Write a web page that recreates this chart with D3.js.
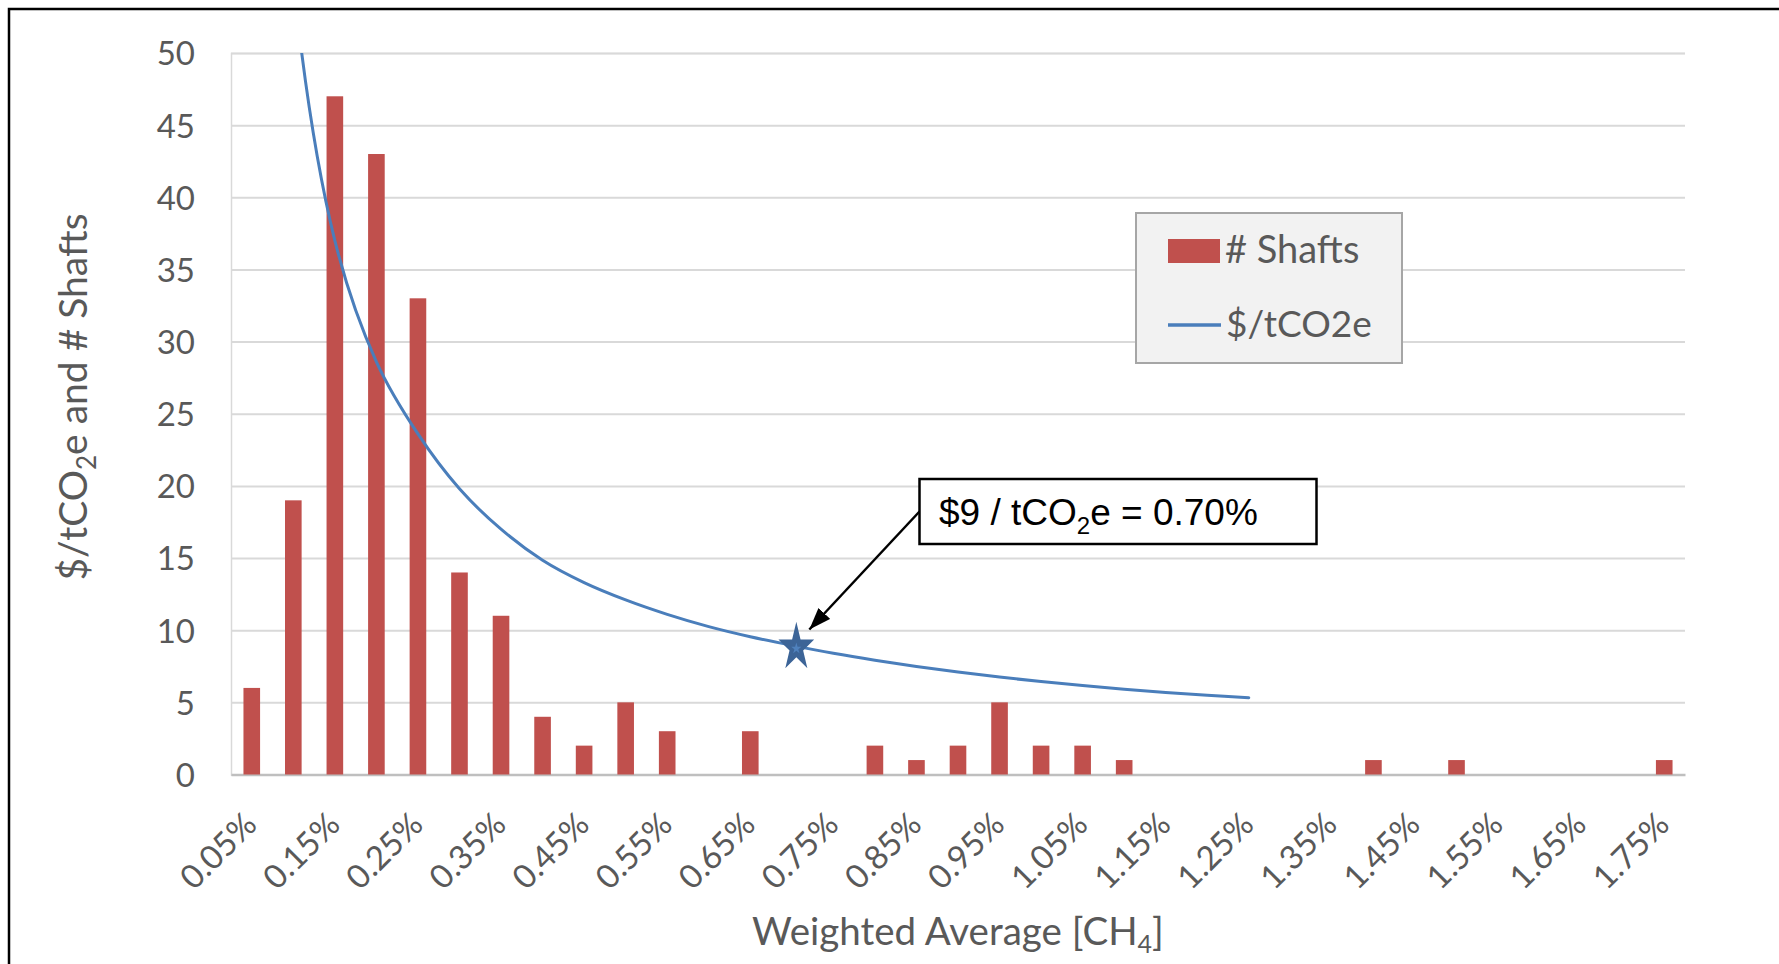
<!DOCTYPE html>
<html>
<head>
<meta charset="utf-8">
<script src="https://cdn.jsdelivr.net/npm/d3@7"></script>
<style>
  body { margin: 0; background: #fff; }
  svg { display: block; }
  text { font-family: Lato, "Open Sans", sans-serif; }
</style>
</head>
<body>
<svg id="chart" width="1779" height="964"></svg>
<script>
// methane concentration bins on the category axis
var categories = ["0.05%", "0.10%", "0.15%", "0.20%", "0.25%", "0.30%", "0.35%", "0.40%", "0.45%",
  "0.50%", "0.55%", "0.60%", "0.65%", "0.70%", "0.75%", "0.80%", "0.85%", "0.90%", "0.95%",
  "1.00%", "1.05%", "1.10%", "1.15%", "1.20%", "1.25%", "1.30%", "1.35%", "1.40%", "1.45%",
  "1.50%", "1.55%", "1.60%", "1.65%", "1.70%", "1.75%"];

// number of shafts per bin
var shafts = [6, 19, 47, 43, 33, 14, 11, 4, 2, 5, 3, 0, 3, 0, 0, 2, 1, 2, 5, 2, 2, 1,
  0, 0, 0, 0, 0, 1, 0, 1, 0, 0, 0, 0, 1];

// $/tCO2e for the first 25 bins (first two run off the top)
var costPerTonne = [110, 55, 37.0, 28.6, 23.6, 19.8, 17.0, 14.85, 13.3, 12.1, 11.1, 10.25,
  9.55, 8.95, 8.4, 7.92, 7.49, 7.1, 6.75, 6.44, 6.16, 5.91, 5.69, 5.5, 5.32];

var yTicks = [0, 5, 10, 15, 20, 25, 30, 35, 40, 45, 50];
var xTickLabels = categories.filter(function(d, i) { return i % 2 == 0; });

// highlighted point
var marker = { category: "0.70%", value: 8.8 };

var barColor = '#c0504d';
var lineColor = '#4a7ebb';
var textColor = '#595959';

var svg = d3.select('#chart');
var plot = { left: 231, right: 1685, top: 53, bottom: 774.5 };

var x = d3.scaleBand()
  .domain(categories)
  .range([plot.left, plot.right])
  .paddingInner(0.6)
  .paddingOuter(0.3);

var y = d3.scaleLinear()
  .domain([0, 50])
  .range([plot.bottom, plot.top]);

function bandCenter(c) { return x(c) + x.bandwidth() / 2; }

// outer frame, runs off the right and bottom of the picture
svg.append('rect')
  .attr('x', 9).attr('y', 9)
  .attr('width', 1800).attr('height', 1000)
  .style('fill', 'none')
  .style('stroke', '#000')
  .style('stroke-width', 2.5);

///////////////////////////////////////////////////////////////////////////////
// AXES

var yAxis = svg.append('g')
  .attr('transform', 'translate(' + plot.left + ',0)')
  .call(d3.axisLeft(y)
    .tickValues(yTicks)
    .tickSize(-(plot.right - plot.left))
    .tickPadding(36));

yAxis.select('.domain')
  .style('stroke', '#d9d9d9')
  .style('stroke-width', 1.5);
yAxis.selectAll('.tick line')
  .style('stroke', '#d9d9d9')
  .style('stroke-width', 2);
yAxis.selectAll('.tick text')
  .attr('dy', '0.36em')
  .style('font-family', 'Lato, sans-serif')
  .style('font-size', '33px')
  .style('fill', textColor);

var xAxis = svg.append('g')
  .attr('transform', 'translate(0,' + plot.bottom + ')')
  .call(d3.axisBottom(x)
    .tickValues(xTickLabels)
    .tickSize(0)
    .tickSizeOuter(0));

xAxis.select('.domain')
  .style('stroke', '#bfbfbf')
  .style('stroke-width', 2.5);
xAxis.selectAll('.tick text')
  .attr('x', 0).attr('y', 0).attr('dy', 0)
  .attr('transform', 'translate(7,52) rotate(-45)')
  .style('text-anchor', 'end')
  .style('font-family', 'Lato, sans-serif')
  .style('font-size', '33px')
  .style('fill', textColor);

///////////////////////////////////////////////////////////////////////////////
// BARS AND LINE

svg.append('g').selectAll('rect')
  .data(shafts)
  .enter()
  .append('rect')
  .attr('x', function(d, i) { return x(categories[i]); })
  .attr('width', x.bandwidth())
  .attr('y', function(d) { return y(d); })
  .attr('height', function(d) { return y(0) - y(d); })
  .style('fill', barColor);

svg.append('clipPath')
  .attr('id', 'plotClip')
  .append('rect')
  .attr('x', plot.left).attr('y', plot.top)
  .attr('width', plot.right - plot.left)
  .attr('height', plot.bottom - plot.top);

// smoothed like the spreadsheet line
var costLine = d3.line()
  .x(function(d, i) { return bandCenter(categories[i]); })
  .y(function(d) { return y(d); })
  .curve(d3.curveCatmullRom.alpha(0.5));

svg.append('path')
  .attr('clip-path', 'url(#plotClip)')
  .attr('d', costLine(costPerTonne))
  .style('fill', 'none')
  .style('stroke', lineColor)
  .style('stroke-width', 3)
  .style('stroke-linecap', 'round');

// star at the $9 point, a bit taller than it is wide
var starX = bandCenter(marker.category) + 4.5;
var starY = y(marker.value);
svg.append('path')
  .attr('d', d3.symbol().type(d3.symbolStar).size(742)())
  .attr('transform', 'translate(' + starX + ',' + starY + ') scale(0.73,1)')
  .style('fill', '#3c6497');
svg.append('path')
  .attr('d', d3.symbol().type(d3.symbolStar).size(40)())
  .attr('transform', 'translate(' + starX + ',' + (starY + 1) + ') scale(0.9,1)')
  .style('fill', '#4f81bd');

///////////////////////////////////////////////////////////////////////////////
// ANNOTATION

var box = { x: 919.5, y: 479, w: 397, h: 65 };

var defs = svg.append('defs');
defs.append('marker')
  .attr('id', 'arrowHead')
  .attr('viewBox', '0 0 10 10')
  .attr('refX', 10).attr('refY', 5)
  .attr('markerUnits', 'userSpaceOnUse')
  .attr('markerWidth', 22).attr('markerHeight', 16)
  .attr('preserveAspectRatio', 'none')
  .attr('orient', 'auto')
  .append('path')
  .attr('d', 'M0,0 L10,5 L0,10 z')
  .style('fill', '#000');

svg.append('line')
  .attr('x1', box.x).attr('y1', box.y + box.h / 2)
  .attr('x2', starX + 13).attr('y2', starY - 18)
  .attr('marker-end', 'url(#arrowHead)')
  .style('stroke', '#000')
  .style('stroke-width', 2.5);

svg.append('rect')
  .attr('x', box.x).attr('y', box.y)
  .attr('width', box.w).attr('height', box.h)
  .style('fill', '#fff')
  .style('stroke', '#000')
  .style('stroke-width', 2.5);

var note = svg.append('text')
  .attr('x', box.x + 19.5).attr('y', box.y + 46)
  .style('font-family', '"Liberation Sans", Arial, sans-serif')
  .style('font-size', '37px')
  .style('fill', '#000');
note.append('tspan').text('$9 / tCO');
note.append('tspan').attr('dy', 9).style('font-size', '24px').text('2');
note.append('tspan').attr('dy', -9).text('e = 0.70%');

///////////////////////////////////////////////////////////////////////////////
// TITLES

var yTitle = svg.append('text')
  .attr('transform', 'translate(87,397) rotate(-90)')
  .style('text-anchor', 'middle')
  .style('font-size', '39px')
  .style('fill', textColor);
yTitle.append('tspan').text('$/tCO');
yTitle.append('tspan').attr('dy', 9).style('font-size', '26px').text('2');
yTitle.append('tspan').attr('dy', -9).text('e and # Shafts');

var xTitle = svg.append('text')
  .attr('x', (plot.left + plot.right) / 2).attr('y', 945)
  .style('text-anchor', 'middle')
  .style('font-size', '38.5px')
  .style('fill', textColor);
xTitle.append('tspan').text('Weighted Average [CH');
xTitle.append('tspan').attr('dy', 8).style('font-size', '25px').text('4');
xTitle.append('tspan').attr('dy', -8).text(']');

///////////////////////////////////////////////////////////////////////////////
// LEGEND

var legend = svg.append('g').attr('transform', 'translate(1136,213)');
legend.append('rect')
  .attr('width', 266).attr('height', 150)
  .style('fill', '#f2f2f2')
  .style('stroke', '#a6a6a6')
  .style('stroke-width', 2);
legend.append('rect')
  .attr('x', 32).attr('y', 26)
  .attr('width', 52).attr('height', 24)
  .style('fill', barColor);
legend.append('text')
  .attr('x', 89).attr('y', 50)
  .style('font-size', '38px')
  .style('fill', textColor)
  .text('# Shafts');
legend.append('line')
  .attr('x1', 32).attr('x2', 85)
  .attr('y1', 112).attr('y2', 112)
  .style('stroke', lineColor)
  .style('stroke-width', 3.5);
legend.append('text')
  .attr('x', 90).attr('y', 124)
  .style('font-size', '37px')
  .style('fill', textColor)
  .text('$/tCO2e');
</script>
</body>
</html>
